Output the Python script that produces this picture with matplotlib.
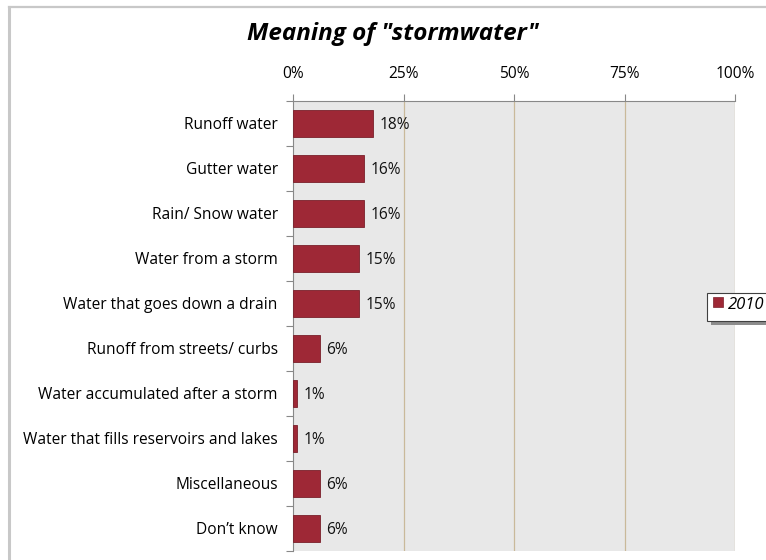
import matplotlib
matplotlib.use("Agg")
import matplotlib.pyplot as plt
from matplotlib.patches import Rectangle
from matplotlib.lines import Line2D

categories = [
    "Runoff water",
    "Gutter water",
    "Rain/ Snow water",
    "Water from a storm",
    "Water that goes down a drain",
    "Runoff from streets/ curbs",
    "Water accumulated after a storm",
    "Water that fills reservoirs and lakes",
    "Miscellaneous",
    "Don\u2019t know",
]
values_2010 = [18, 16, 16, 15, 15, 6, 1, 1, 6, 6]
x_ticks = [0, 25, 50, 75, 100]
series_name = "2010"
title = 'Meaning of "stormwater"'

plt.rcParams["font.family"] = ["Open Sans", "DejaVu Sans"]

W, H = 766, 560
fig = plt.figure(figsize=(W / 100, H / 100), dpi=100)
fig.patch.set_facecolor("white")

# outer chart frame (left and top edges visible)
fig.add_artist(Line2D([8.5 / W, 8.5 / W], [0, 1 - 7 / H], color="#c8c8c8", lw=2.2,
                      transform=fig.transFigure))
fig.add_artist(Line2D([8.5 / W, 1], [1 - 7 / H, 1 - 7 / H], color="#c8c8c8", lw=1.6,
                      transform=fig.transFigure))

left, right, top, bottom = 293, 735, 101, 551
ax = fig.add_axes([left / W, 1 - bottom / H, (right - left) / W, (bottom - top) / H])
ax.set_facecolor("#e8e8e8")

bar_color = "#9e2836"
y = list(range(len(categories)))
ax.barh(y, values_2010, height=0.62, color=bar_color, edgecolor="#7a1f2a",
        linewidth=0.6, zorder=3)

for yi, v in zip(y, values_2010):
    ax.text(v + 1.5, yi, f"{v}%", va="center_baseline", ha="left", fontsize=11.2,
            color="#111111", zorder=4)

ax.set_xlim(0, 100)
ax.set_ylim(len(categories) - 0.5, -0.5)

ax.xaxis.tick_top()
ax.set_xticks(x_ticks)
ax.set_xticklabels([f"{t}%" for t in x_ticks], fontsize=11.2)
ax.tick_params(axis="x", direction="out", length=5, width=0.8, color="#888888",
               pad=9, top=True, bottom=False)
for t in x_ticks[1:]:
    ax.axvline(t, color="#c9b99a", lw=0.9, zorder=1)

ax.set_yticks([i + 0.5 for i in range(-1, len(categories))], minor=True)
ax.set_yticks(y)
ax.set_yticklabels(categories, fontsize=11.2)
ax.tick_params(axis="y", which="major", length=0, pad=11)
ax.tick_params(axis="y", which="minor", length=5, width=0.8, color="#888888",
               direction="out")

for s in ["right", "bottom"]:
    ax.spines[s].set_visible(False)
ax.spines["left"].set_color("#888888")
ax.spines["top"].set_color("#888888")
ax.spines["left"].set_linewidth(0.8)
ax.spines["top"].set_linewidth(0.8)

fig.text(393 / W, 1 - 34 / H, title, ha="center", va="center", fontsize=17.5,
         fontweight="bold", fontstyle="italic", color="black")

# legend box with drop shadow, running past the right edge
lx, ly, lw_, lh = 707, 293, 70, 28
fig.add_artist(Rectangle(((lx + 4) / W, 1 - (ly + lh + 4) / H), lw_ / W, lh / H,
                         transform=fig.transFigure, facecolor="#8c8c8c",
                         edgecolor="none", zorder=5))
fig.add_artist(Rectangle((lx / W, 1 - (ly + lh) / H), lw_ / W, lh / H,
                         transform=fig.transFigure, facecolor="white",
                         edgecolor="#404040", lw=0.8, zorder=6))
fig.add_artist(Rectangle((713 / W, 1 - 307 / H), 10 / W, 10 / H,
                         transform=fig.transFigure, facecolor=bar_color,
                         edgecolor="#7a1f2a", lw=0.5, zorder=7))
fig.text(728 / W, 1 - 305 / H, series_name, ha="left", va="center", fontsize=12,
         fontstyle="italic", zorder=8)

fig.savefig("out.png", dpi=100)
